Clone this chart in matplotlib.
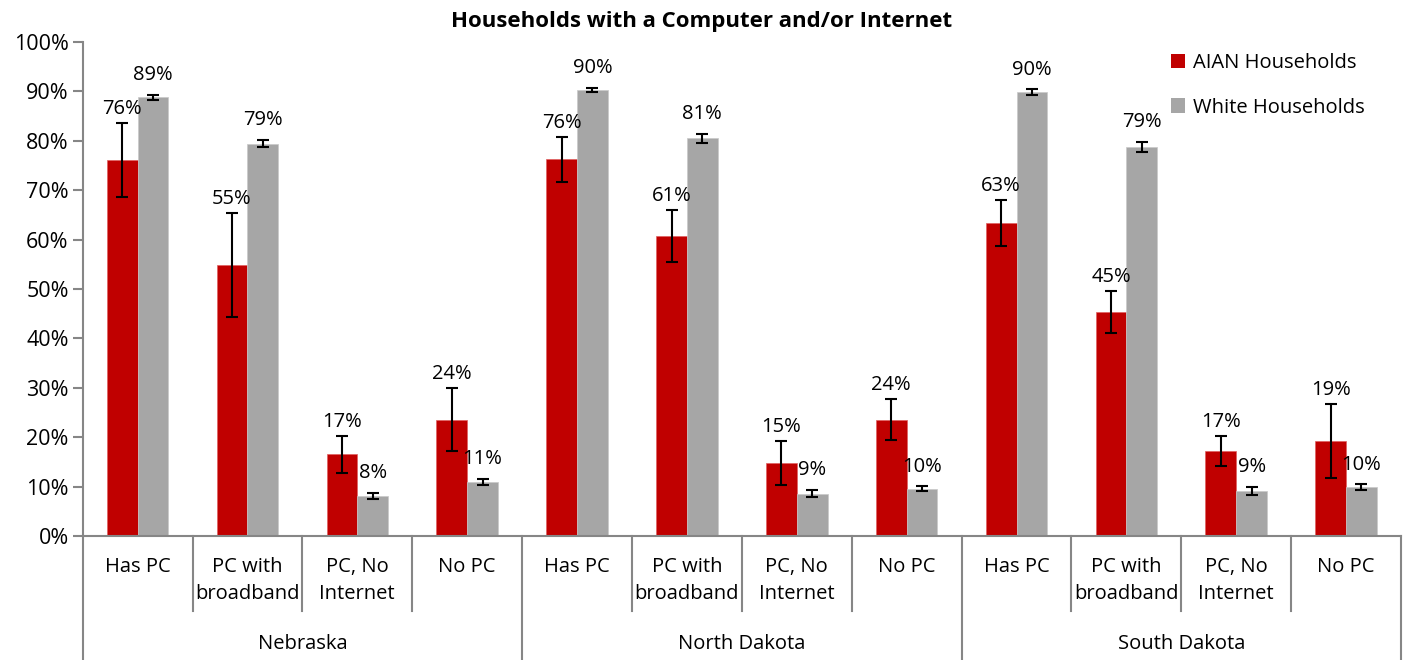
import matplotlib
matplotlib.use("Agg")
import matplotlib.pyplot as plt
from matplotlib.patches import Patch
import numpy as np

plt.rcParams['font.family'] = ['Open Sans', 'DejaVu Sans']

# Data (percent)
states = ["Nebraska", "North Dakota", "South Dakota"]
categories = ["Has PC", "PC with\nbroadband", "PC, No\nInternet", "No PC"]
aian = [76.1, 54.9, 16.6, 23.6,
        76.2, 60.7, 14.8, 23.6,
        63.3, 45.3, 17.3, 19.2]
aian_err = [7.5, 10.5, 3.7, 6.4,
            4.5, 5.2, 4.5, 4.1,
            4.7, 4.2, 3.0, 7.5]
white = [88.8, 79.4, 8.2, 11.0,
         90.2, 80.5, 8.6, 9.6,
         89.8, 78.8, 9.2, 9.9]
white_err = [0.5, 0.7, 0.6, 0.6,
             0.4, 0.9, 0.75, 0.5,
             0.55, 1.0, 0.8, 0.6]
aian_labels = ["76%", "55%", "17%", "24%", "76%", "61%", "15%", "24%", "63%", "45%", "17%", "19%"]
white_labels = ["89%", "79%", "8%", "11%", "90%", "81%", "9%", "10%", "90%", "79%", "9%", "10%"]

RED = "#C00000"
GRAY = "#A6A6A6"
AXIS = "#868686"

fig = plt.figure(figsize=(14.03, 6.6), dpi=100)
ax = fig.add_axes([0.0589, 0.1874, 0.9397, 0.7494])

n = len(aian)
x = np.arange(n)
w = 0.28

ax.bar(x - w / 2, aian, w, color=RED, edgecolor="#E06060", linewidth=0.5, zorder=2)
ax.bar(x + w / 2, white, w, color=GRAY, edgecolor="#C8C8C8", linewidth=0.5, zorder=2)
ax.errorbar(x - w / 2, aian, yerr=aian_err, fmt="none", ecolor="black",
            elinewidth=1.5, capsize=4.2, capthick=1.5, zorder=3)
ax.errorbar(x + w / 2, white, yerr=white_err, fmt="none", ecolor="black",
            elinewidth=1.5, capsize=4.2, capthick=1.5, zorder=3)

for i in range(n):
    ax.annotate(aian_labels[i], (x[i] - w / 2, aian[i] + aian_err[i]),
                xytext=(0, 3), textcoords="offset points",
                ha="center", va="bottom", fontsize=14.5)
    ax.annotate(white_labels[i], (x[i] + w / 2, white[i] + white_err[i]),
                xytext=(0, 7), textcoords="offset points",
                ha="center", va="bottom", fontsize=14.5)

ax.set_xlim(-0.5, n - 0.5)
ax.set_ylim(0, 100)
ax.set_yticks(np.arange(0, 101, 10))
ax.set_yticklabels([f"{v}%" for v in range(0, 101, 10)], fontsize=15.5)
ax.tick_params(axis="y", length=7, width=1.5, color=AXIS, pad=3)
ax.set_xticks([])

for s in ["top", "right"]:
    ax.spines[s].set_visible(False)
for s in ["left", "bottom"]:
    ax.spines[s].set_color(AXIS)
    ax.spines[s].set_linewidth(1.5)

# multi-level category axis
trans = ax.get_xaxis_transform()
for i in range(n):
    ax.text(x[i], -0.042, categories[i % 4], transform=trans, ha="center", va="top",
            fontsize=14.5, linespacing=1.45)
for i in range(1, n):
    if i % 4 == 0:
        continue
    ax.plot([i - 0.5, i - 0.5], [0, -0.152], transform=trans, color=AXIS,
            lw=1.5, clip_on=False)
for g in range(len(states) + 1):
    ax.plot([g * 4 - 0.5, g * 4 - 0.5], [0, -0.25], transform=trans, color=AXIS,
            lw=1.5, clip_on=False)
for g, st in enumerate(states):
    ax.text(g * 4 + 1.5, -0.217, st, transform=trans, ha="center", va="center",
            fontsize=14.5)

fig.text(0.5, 0.968, "Households with a Computer and/or Internet", ha="center",
         va="center", fontsize=16, fontweight="bold")

handles = [Patch(facecolor=RED, label="AIAN Households"),
           Patch(facecolor=GRAY, label="White Households")]
ax.legend(handles=handles, loc="upper left", bbox_to_anchor=(0.812, 1.013),
          frameon=False, fontsize=14.5, handlelength=0.7, handleheight=0.7,
          handletextpad=0.4, labelspacing=1.2)

fig.savefig("out.png", dpi=100)
